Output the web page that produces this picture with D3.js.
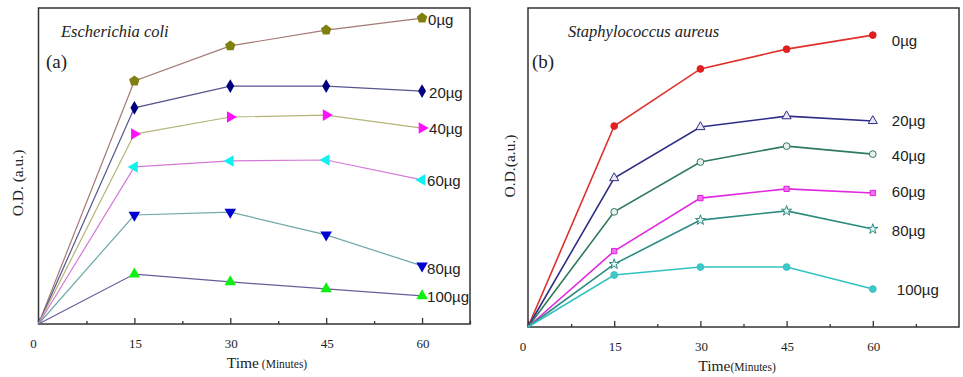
<!DOCTYPE html>
<html>
<head>
<meta charset="utf-8">
<script src="https://cdn.jsdelivr.net/npm/d3@7"></script>
<style>
  html, body { margin: 0; padding: 0; background: #fff; }
  svg { display: block; }
</style>
</head>
<body>
<svg id="chart" width="963" height="377"></svg>
<script>
// ---- data ----
const times = [0, 15, 30, 45, 60];
const doses = ["0µg", "20µg", "40µg", "60µg", "80µg", "100µg"];
const xTicks = [0, 15, 30, 45, 60];

// Escherichia coli (a), O.D. in arbitrary units
const ecoli0   = [0, 76.9, 88.0, 93.0, 96.8];
const ecoli20  = [0, 68.4, 75.3, 75.3, 73.7];
const ecoli40  = [0, 60.1, 65.5, 66.1, 62.0];
const ecoli60  = [0, 49.7, 51.6, 51.9, 45.6];
const ecoli80  = [0, 34.5, 35.4, 28.2, 18.4];
const ecoli100 = [0, 15.8, 13.3, 11.1, 8.9];

// Staphylococcus aureus (b)
const staph0   = [0, 63.0, 80.9, 87.1, 91.5];
const staph20  = [0, 46.7, 62.7, 66.1, 64.6];
const staph40  = [0, 36.1, 51.7, 56.7, 54.2];
const staph60  = [0, 23.8, 40.4, 43.3, 42.0];
const staph80  = [0, 19.7, 33.5, 36.4, 30.7];
const staph100 = [0, 16.3, 18.8, 18.8, 11.9];

const svg = d3.select("#chart");

function pentagon(r) {
  const pts = [];
  for (let i = 0; i < 5; i++) {
    const a = -Math.PI / 2 + i * 2 * Math.PI / 5;
    pts.push([r * Math.cos(a), r * Math.sin(a)]);
  }
  return "M" + pts.map(p => p.join(",")).join("L") + "Z";
}

function drawPanel(cfg) {
  const g = svg.append("g");
  const x = d3.scaleLinear().domain([0, cfg.xMax]).range([cfg.left, cfg.right]);
  const y = d3.scaleLinear().domain([0, 100]).range([cfg.bottom, cfg.top]);

  // frame
  g.append("rect")
    .attr("x", cfg.left).attr("y", cfg.top)
    .attr("width", cfg.right - cfg.left).attr("height", cfg.bottom - cfg.top)
    .attr("fill", "none").attr("stroke", "#333").attr("stroke-width", 1.5);

  // bottom axis with inward ticks
  const minor = d3.range(7.5, cfg.xMax + 0.01, 15);
  const axMajor = d3.axisTop(x).tickValues(xTicks).tickSize(6).tickFormat("");
  const axMinor = d3.axisTop(x).tickValues(minor).tickSize(3).tickFormat("");
  [axMajor, axMinor].forEach(ax => {
    const a = g.append("g").attr("transform", `translate(0,${cfg.bottom})`).call(ax);
    a.select(".domain").remove();
    a.selectAll("line").attr("stroke", "#333").attr("stroke-width", 1.3);
  });

  // tick labels
  g.selectAll(".tl").data(xTicks).enter().append("text")
    .attr("x", d => x(d) + (d === 0 ? -5 : 1))
    .attr("y", cfg.bottom + 24)
    .attr("text-anchor", "middle")
    .attr("font-family", "Liberation Serif, Times New Roman, serif")
    .attr("font-size", 13).attr("fill", "#222")
    .text(d => d);

  // x title
  const xt = g.append("text")
    .attr("x", cfg.xTitleX).attr("y", cfg.bottom + 44)
    .attr("text-anchor", "middle")
    .attr("font-family", "Liberation Serif, Times New Roman, serif")
    .attr("fill", "#222");
  xt.append("tspan").attr("font-size", 15.5).text("Time");
  xt.append("tspan").attr("font-size", 11.5).text(cfg.timeGap ? " (Minutes)" : "(Minutes)");

  // y title
  g.append("text")
    .attr("transform", `translate(${cfg.yTitleX},${cfg.yTitleY}) rotate(-90)`)
    .attr("text-anchor", "middle").attr("dominant-baseline", "central")
    .attr("font-family", "Liberation Serif, Times New Roman, serif")
    .attr("font-size", 15.5).attr("fill", "#222")
    .text(cfg.yTitle);

  // organism name and panel letter
  g.append("text")
    .attr("x", cfg.nameX).attr("y", 37)
    .attr("font-family", "Liberation Serif, Times New Roman, serif")
    .attr("font-style", "italic").attr("font-size", 16.5).attr("fill", "#222")
    .text(cfg.name);
  g.append("text")
    .attr("x", cfg.letterX).attr("y", 68)
    .attr("font-family", "Liberation Serif, Times New Roman, serif")
    .attr("font-size", 19).attr("fill", "#222")
    .text(cfg.letter);

  const line = d3.line().x((d, i) => x(times[i])).y(d => y(d));

  cfg.series.forEach((vals, k) => {
    g.append("path").datum(vals)
      .attr("d", line)
      .attr("fill", "none")
      .attr("stroke", cfg.lineColors[k])
      .attr("stroke-width", cfg.lineWidth);
    g.selectAll(null).data(vals.slice(1)).enter()
      .append("path")
      .attr("transform", (d, i) => `translate(${x(times[i + 1])},${y(d)}) rotate(${cfg.markerRot[k]})`)
      .attr("d", cfg.markerPath[k])
      .attr("fill", cfg.markerFill[k])
      .attr("stroke", cfg.markerStroke[k])
      .attr("stroke-width", 1);
    const last = vals[vals.length - 1];
    g.append("text")
      .attr("x", x(60) + cfg.labelDx[k])
      .attr("y", y(last) + cfg.labelDy[k])
      .attr("dominant-baseline", "central")
      .attr("font-family", "Liberation Sans, Arial, sans-serif")
      .attr("font-size", 15).attr("fill", "#222")
      .text(doses[k]);
  });
}

const tri = d3.symbol().type(d3.symbolTriangle).size(58)();
const triSmall = d3.symbol().type(d3.symbolTriangle).size(36)();
const diamond = d3.symbol().type(d3.symbolDiamond).size(55)();
const circ = d3.symbol().type(d3.symbolCircle).size(36)();
const sq = d3.symbol().type(d3.symbolSquare).size(28)();
const star = d3.symbol().type(d3.symbolStar).size(32)();

drawPanel({
  left: 38.5, right: 470, top: 8, bottom: 324, xMax: 67.5,
  xTitleX: 267, timeGap: true,
  yTitleX: 17, yTitleY: 183, yTitle: "O.D. (a.u.)",
  name: "Escherichia coli", nameX: 61,
  letter: "(a)", letterX: 46,
  series: [ecoli0, ecoli20, ecoli40, ecoli60, ecoli80, ecoli100],
  lineColors: ["#a47a74", "#55558f", "#b4b478", "#d679d6", "#6fa8a8", "#6a5c9c"],
  lineWidth: 1.2,
  markerPath: [pentagon(5.5), diamond, tri, tri, tri, tri],
  markerRot: [0, 0, 90, -90, 180, 0],
  markerFill: ["#808010", "#000080", "#ff10ff", "#10f0f0", "#0000d0", "#10f010"],
  markerStroke: ["none", "none", "none", "none", "none", "none"],
  labelDx: [6, 7, 7, 5, 5, 5],
  labelDy: [1, 1, 0, 1, 3, 1]
});

drawPanel({
  left: 528, right: 959, top: 8, bottom: 327, xMax: 75,
  xTitleX: 737, timeGap: false,
  yTitleX: 509, yTitleY: 166, yTitle: "O.D.(a.u.)",
  name: "Staphylococcus aureus", nameX: 568,
  letter: "(b)", letterX: 532,
  series: [staph0, staph20, staph40, staph60, staph80, staph100],
  lineColors: ["#e0302c", "#2e2e86", "#2f7a5c", "#e028e0", "#2b8c80", "#33c2c2"],
  lineWidth: 1.6,
  markerPath: [circ, triSmall, circ, sq, star, circ],
  markerRot: [0, 0, 0, 0, 0, 0],
  markerFill: ["#e02020", "#e8e8f4", "#e8f2ec", "#f070f0", "#e8f4f2", "#40c8c8"],
  markerStroke: ["#e02020", "#2e2e86", "#2f7a5c", "#e020e0", "#2b8c80", "#33c2c2"],
  labelDx: [19, 19, 19, 19, 19, 24],
  labelDy: [5, 0, 1, -2, 1, 0]
});
</script>
</body>
</html>
